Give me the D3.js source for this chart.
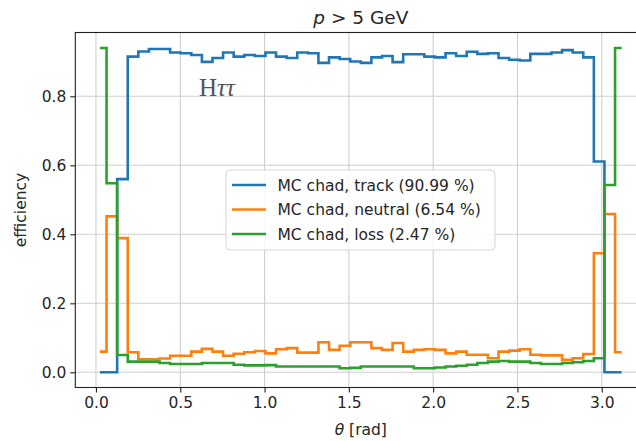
<!DOCTYPE html>
<html>
<head>
<meta charset="utf-8">
<script src="https://cdn.jsdelivr.net/npm/d3@7"></script>
<style>
  html, body { margin: 0; padding: 0; background: #fff; }
  svg { display: block; font-family: "DejaVu Sans", sans-serif; }
</style>
</head>
<body>
<svg id="chart" width="636" height="441"></svg>
<script>
// ---- data (50 theta bins over [0, pi]) ----
const nBins = 50;
const xTicks = [0.0, 0.5, 1.0, 1.5, 2.0, 2.5, 3.0];
const yTicks = [0.0, 0.2, 0.4, 0.6, 0.8];
const seriesNames = ["MC chad, track (90.99 %)", "MC chad, neutral (6.54 %)", "MC chad, loss (2.47 %)"];
const track = [0, 0, 0.56, 0.915, 0.93, 0.937, 0.937, 0.927, 0.925, 0.92,
  0.90, 0.911, 0.927, 0.915, 0.92, 0.917, 0.927, 0.915, 0.911, 0.927,
  0.925, 0.897, 0.913, 0.908, 0.901, 0.897, 0.913, 0.917, 0.899, 0.922,
  0.922, 0.915, 0.913, 0.925, 0.917, 0.929, 0.923, 0.925, 0.911, 0.906,
  0.904, 0.923, 0.923, 0.927, 0.934, 0.927, 0.913, 0.611, 0, 0];
const neutral = [0.06, 0.452, 0.389, 0.058, 0.038, 0.038, 0.04, 0.048, 0.048, 0.06,
  0.068, 0.06, 0.048, 0.054, 0.058, 0.062, 0.055, 0.067, 0.070, 0.057,
  0.057, 0.087, 0.065, 0.077, 0.087, 0.087, 0.070, 0.065, 0.085, 0.060,
  0.065, 0.067, 0.065, 0.055, 0.060, 0.051, 0.051, 0.041, 0.060, 0.063,
  0.067, 0.051, 0.049, 0.049, 0.036, 0.041, 0.053, 0.345, 0.459, 0.058];
const loss = [0.94, 0.548, 0.05, 0.031, 0.031, 0.031, 0.027, 0.024, 0.024, 0.024,
  0.027, 0.027, 0.027, 0.022, 0.02, 0.02, 0.021, 0.017, 0.017, 0.017,
  0.017, 0.017, 0.017, 0.012, 0.013, 0.017, 0.017, 0.017, 0.017, 0.017,
  0.012, 0.012, 0.014, 0.017, 0.019, 0.022, 0.027, 0.031, 0.033, 0.031,
  0.031, 0.027, 0.024, 0.024, 0.027, 0.029, 0.033, 0.041, 0.543, 0.94];
const colors = ["#1f77b4", "#ff7f0e", "#2ca02c"];

// bin centers
const centers = d3.range(nBins).map(i => (i + 0.5) * Math.PI / nBins);

// ---- layout ----
const svg = d3.select("#chart");
const pLeft = 75.3, pRight = 646.3, pTop = 32.5, pBottom = 387.5;
const xMin = centers[0], xMax = centers[nBins - 1];
const xm = (xMax - xMin) * 0.05;
const x = d3.scaleLinear().domain([xMin - xm, xMax + xm]).range([pLeft, pRight]);
const y = d3.scaleLinear().domain([-0.044, 0.985]).range([pBottom, pTop]);

const gridColor = "#cfcfcf";
// grid
svg.append("g").selectAll("line").data(xTicks).join("line")
  .attr("x1", d => x(d)).attr("x2", d => x(d)).attr("y1", pTop).attr("y2", pBottom)
  .attr("stroke", gridColor).attr("stroke-width", 1.1);
svg.append("g").selectAll("line").data(yTicks).join("line")
  .attr("x1", pLeft).attr("x2", pRight).attr("y1", d => y(d)).attr("y2", d => y(d))
  .attr("stroke", gridColor).attr("stroke-width", 1.1);

// clip
svg.append("clipPath").attr("id", "clip").append("rect")
  .attr("x", pLeft).attr("y", pTop).attr("width", pRight - pLeft).attr("height", pBottom - pTop);

// lines
const series = [track, neutral, loss];
const line = d3.line().x((d, i) => x(centers[i])).y(d => y(d)).curve(d3.curveStep);
svg.append("g").attr("clip-path", "url(#clip)").selectAll("path").data(series).join("path")
  .attr("d", d => line(d)).attr("fill", "none")
  .attr("stroke", (d, i) => colors[i]).attr("stroke-width", 2.6)
  .attr("stroke-linejoin", "miter").attr("stroke-linecap", "square");

// axes
const xAxis = d3.axisBottom(x).tickValues(xTicks).tickFormat(d3.format(".1f")).tickSize(5).tickPadding(4);
const yAxis = d3.axisLeft(y).tickValues(yTicks).tickFormat(d3.format(".1f")).tickSize(5).tickPadding(4);
const gx = svg.append("g").attr("transform", `translate(0,${pBottom})`).call(xAxis);
const gy = svg.append("g").attr("transform", `translate(${pLeft},0)`).call(yAxis);
[gx, gy].forEach(g => {
  g.select(".domain").remove();
  g.selectAll(".tick line").attr("stroke", "#222").attr("stroke-width", 1.1);
  g.selectAll(".tick text").attr("fill", "#262626").attr("font-size", "15.5px")
    .attr("font-family", "DejaVu Sans");
});

// spines
svg.append("rect").attr("x", pLeft).attr("y", pTop).attr("width", pRight - pLeft).attr("height", pBottom - pTop)
  .attr("fill", "none").attr("stroke", "#222").attr("stroke-width", 1.1);

// title
const title = svg.append("text").attr("x", (pLeft + pRight) / 2).attr("y", 24)
  .attr("text-anchor", "middle").attr("font-size", "18.5px").attr("fill", "#262626");
title.append("tspan").attr("font-style", "italic").text("p");
title.append("tspan").text(" > 5 GeV");

// axis labels
const xl = svg.append("text").attr("x", (pLeft + pRight) / 2).attr("y", 435)
  .attr("text-anchor", "middle").attr("font-size", "15.5px").attr("fill", "#262626");
xl.append("tspan").attr("font-style", "italic").text("θ");
xl.append("tspan").text(" [rad]");
svg.append("text").attr("transform", `translate(26,${(pTop + pBottom) / 2}) rotate(-90)`)
  .attr("text-anchor", "middle").attr("font-size", "15.5px").attr("fill", "#262626").text("efficiency");

// annotation
const ann = svg.append("text").attr("x", 199).attr("y", 96)
  .attr("font-family", "Liberation Serif, DejaVu Serif, serif").attr("font-size", "25px").attr("fill", "#555");
ann.append("tspan").text("H");
ann.append("tspan").attr("font-style", "italic").text("ττ");

// legend
const lg = svg.append("g");
lg.append("rect").attr("x", 226).attr("y", 170).attr("width", 269).attr("height", 80)
  .attr("rx", 4).attr("fill", "#fff").attr("fill-opacity", 0.85)
  .attr("stroke", "#d5d5d5").attr("stroke-width", 1);
const rowsY = [185, 209.5, 234];
seriesNames.forEach((name, i) => {
  lg.append("line").attr("x1", 232).attr("x2", 266).attr("y1", rowsY[i]).attr("y2", rowsY[i])
    .attr("stroke", colors[i]).attr("stroke-width", 2.6);
  lg.append("text").attr("x", 277.5).attr("y", rowsY[i]).attr("dy", "0.36em")
    .attr("font-size", "15.5px").attr("fill", "#262626").text(name);
});
</script>
</body>
</html>
